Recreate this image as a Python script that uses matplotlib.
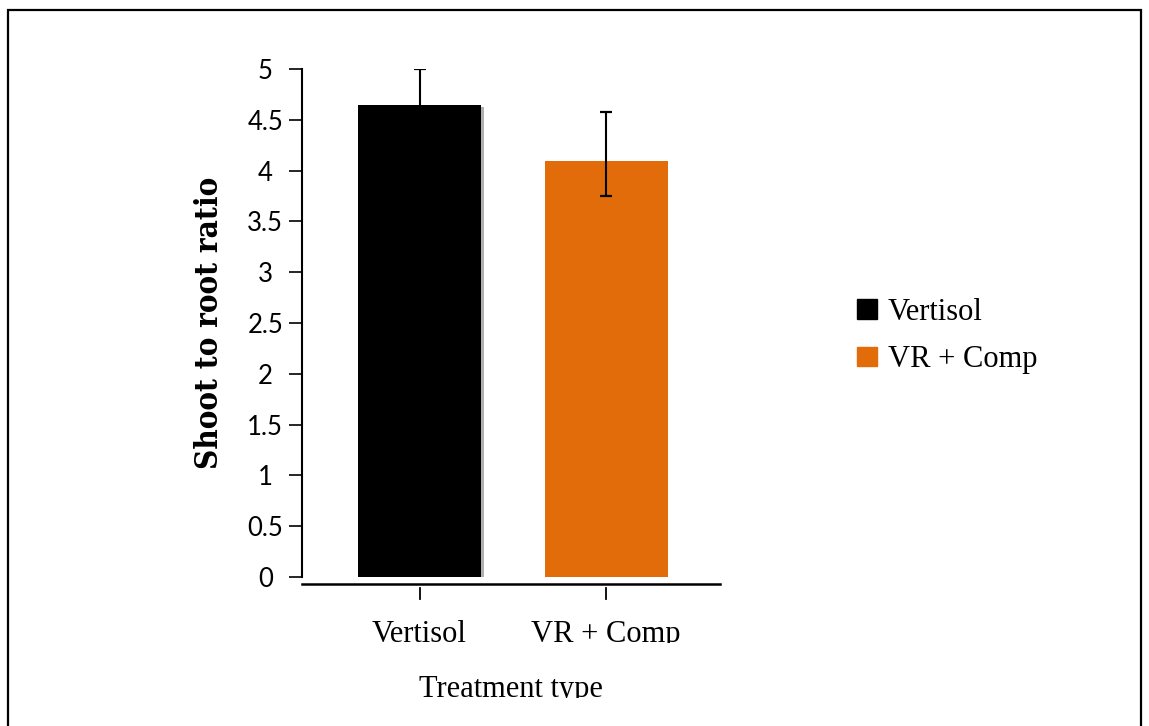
import matplotlib
matplotlib.use("Agg")
import matplotlib.pyplot as plt
import matplotlib.patheffects as pe
from matplotlib.patches import Rectangle
from matplotlib.transforms import Bbox, TransformedBbox, blended_transform_factory

# shoot:root ratio per treatment
treatments = ["Vertisol", "VR + Comp"]
ratio = [4.65, 4.09]
err_low = [0.35, 0.34]
err_high = [0.35, 0.49]
bar_colors = ["#000000", "#e36c0a"]
yticks = [0, 0.5, 1, 1.5, 2, 2.5, 3, 3.5, 4, 4.5, 5]

W, H = 1149, 726
fig = plt.figure(figsize=(W / 100, H / 100), dpi=100)
ax = fig.add_axes([302 / W, (H - 577) / H, 418 / W, 508 / H])

x = list(range(len(treatments)))
bars = ax.bar(x, ratio, width=0.66, color=bar_colors, zorder=2)
# grey drop shadow on the first bar
bars[0].set_path_effects([pe.SimplePatchShadow(offset=(2, -2), shadow_rgbFace="#b0b0b0", alpha=1.0), pe.Normal()])
ax.errorbar(x, ratio, yerr=[err_low, err_high], fmt="none", ecolor="black",
            elinewidth=1.5, capsize=4.2, capthick=1.6, zorder=3)

ax.set_xlim(-0.63, 1.61)
ax.set_ylim(0, 5)
ax.set_yticks(yticks)
ax.set_yticklabels([("%g" % t) for t in yticks], fontfamily="Lato", fontsize=18.5, ha="center")
ax.tick_params(axis="y", length=9.5, width=1.2, pad=17)

for s in ["top", "right"]:
    ax.spines[s].set_visible(False)
ax.spines["left"].set_linewidth(1.5)
ax.spines["bottom"].set_linewidth(1.8)
ax.spines["bottom"].set_position(("outward", 5))

# x ticks sit a little below the axis line
ax.set_xticks(x)
ax.set_xticklabels(treatments, fontfamily="Liberation Serif", fontsize=22)
ax.tick_params(axis="x", length=0, pad=26)
trans = blended_transform_factory(ax.transData, ax.transAxes)
for xi in x:
    ax.plot([xi, xi], [-0.0217, -0.0433], color="black", lw=1.3, transform=trans, clip_on=False)

ax.set_xlabel("Treatment type", fontfamily="Liberation Serif", fontsize=22, labelpad=19)
ax.set_ylabel("Shoot to root ratio", fontfamily="DejaVu Serif", fontweight="heavy",
              fontstretch="condensed", fontsize=22.5, labelpad=16)

# text at the bottom gets cut off
lbl_clip = TransformedBbox(Bbox([[0, 83 / H], [1, 1]]), fig.transFigure)
for t in ax.get_xticklabels():
    t.set_clip_box(lbl_clip)
    t.set_clip_on(True)
ax.xaxis.label.set_clip_box(TransformedBbox(Bbox([[0, 28 / H], [1, 1]]), fig.transFigure))
ax.xaxis.label.set_clip_on(True)

handles = [Rectangle((0, 0), 1, 1, color=c) for c in bar_colors]
fig.legend(handles, treatments, loc="center left", bbox_to_anchor=(857 / W, (H - 336) / H),
           frameon=False, prop={"family": "Liberation Serif", "size": 22},
           handlelength=0.65, handleheight=0.6, handletextpad=0.36, labelspacing=0.6,
           borderpad=0, borderaxespad=0)

# frame round the whole chart
fig.add_artist(Rectangle((8 / W, -0.05), (1141 - 8) / W, (H - 10) / H + 0.05,
                         transform=fig.transFigure, fill=False, edgecolor="black", lw=1.6))

fig.savefig("out.png", dpi=100)
